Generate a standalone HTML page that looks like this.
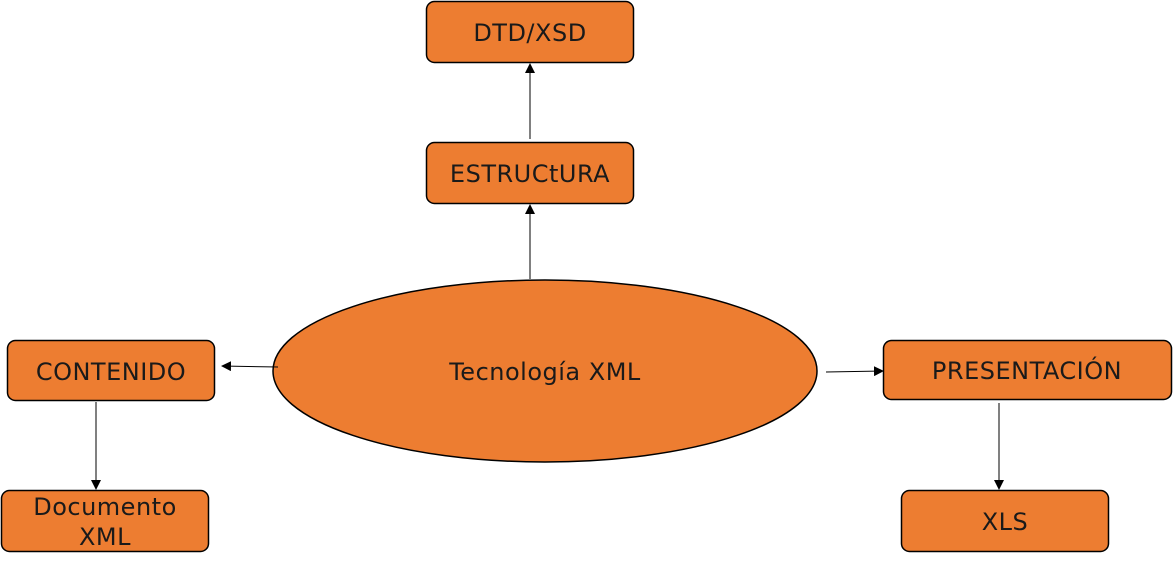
<!DOCTYPE html>
<html><head><meta charset="utf-8"><style>
html,body{margin:0;padding:0;background:#fff;}
svg{display:block}
text{font-family:"DejaVu Sans","Liberation Sans",sans-serif;font-size:24px;letter-spacing:0.5px;fill:#1a1a1a;}
</style></head><body>
<svg width="1173" height="567" viewBox="0 0 1173 567" xmlns="http://www.w3.org/2000/svg">
<defs><marker id="a" markerWidth="10" markerHeight="10" refX="9" refY="5" orient="auto" markerUnits="userSpaceOnUse"><path d="M0,0 L10,5 L0,10 z" fill="#000"/></marker></defs>
<g fill="#ED7D31" stroke="#000" stroke-width="1.5">
<rect x="426.5" y="1.5" width="207" height="61" rx="8"/>
<rect x="426.5" y="142.5" width="207" height="61" rx="8"/>
<rect x="7.5" y="340.5" width="207" height="60" rx="8"/>
<rect x="1.5" y="490.5" width="207" height="61" rx="8"/>
<rect x="883.5" y="340.5" width="288" height="59" rx="8"/>
<rect x="901.5" y="490.5" width="207" height="61" rx="8"/>
<ellipse cx="545" cy="371" rx="272" ry="91"/>
</g>
<g stroke="#000" stroke-width="1" marker-end="url(#a)">
<line x1="530" y1="279" x2="530" y2="205"/>
<line x1="530" y1="139" x2="530" y2="64"/>
<line x1="278" y1="367" x2="222" y2="366"/>
<line x1="826" y1="372" x2="883" y2="371"/>
<line x1="96" y1="402" x2="96" y2="489"/>
<line x1="999" y1="403" x2="999" y2="489"/>
</g>
<g text-anchor="middle">
<text x="530" y="41">DTD/XSD</text>
<text x="530" y="182">ESTRUCtURA</text>
<text x="111" y="380">CONTENIDO</text>
<text x="105" y="515">Documento</text>
<text x="105" y="545">XML</text>
<text x="1027" y="379">PRESENTACIÓN</text>
<text x="1005" y="530">XLS</text>
<text x="545" y="380">Tecnología XML</text>
</g>
</svg>
</body></html>
